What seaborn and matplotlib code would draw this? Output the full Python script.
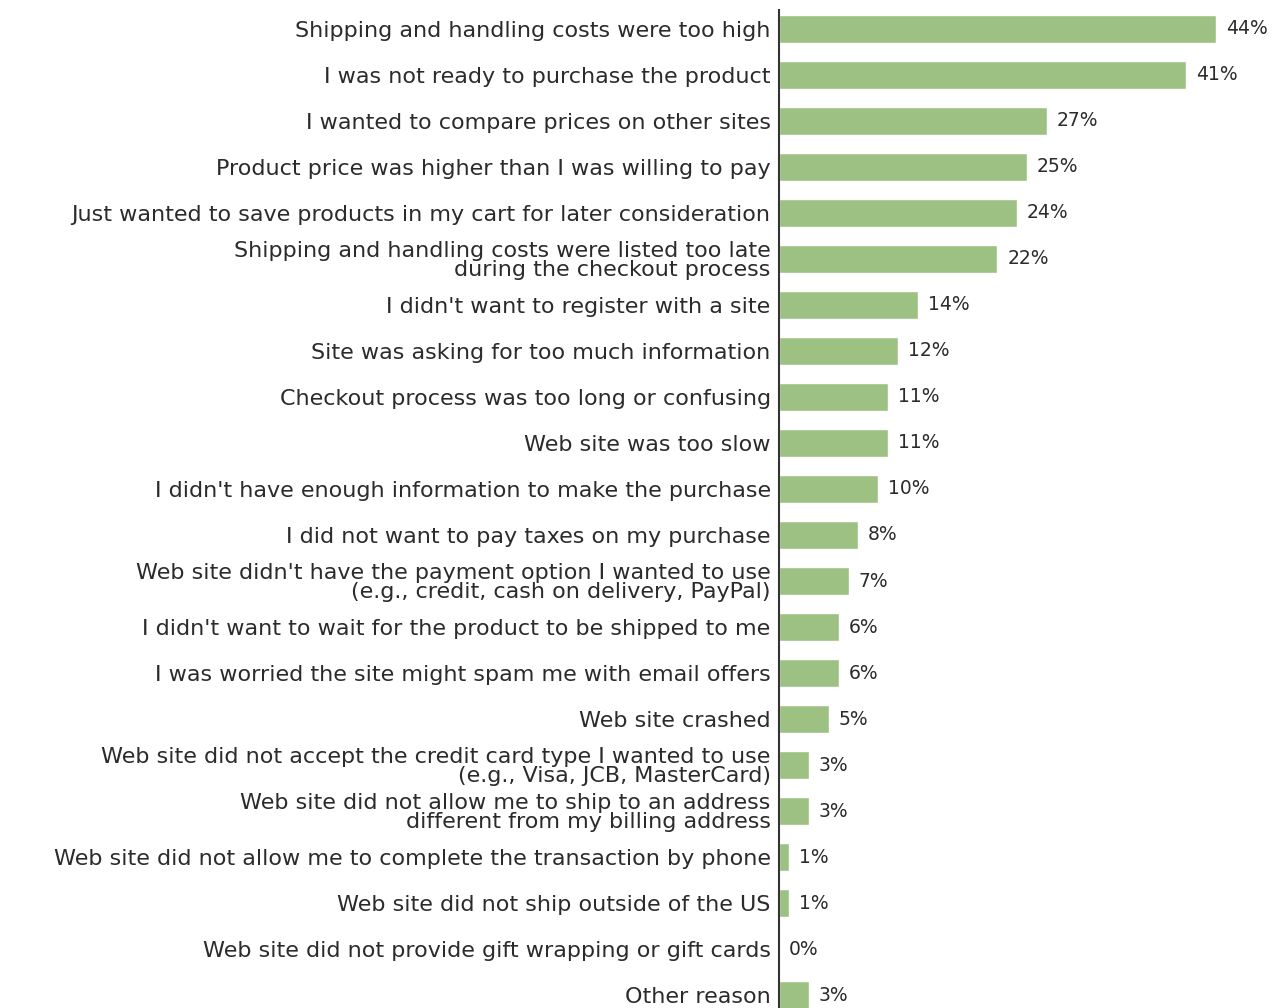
import matplotlib
matplotlib.use("Agg")
import matplotlib.pyplot as plt
import seaborn as sns
import pandas as pd

reasons = [
    "Shipping and handling costs were too high",
    "I was not ready to purchase the product",
    "I wanted to compare prices on other sites",
    "Product price was higher than I was willing to pay",
    "Just wanted to save products in my cart for later consideration",
    "Shipping and handling costs were listed too late\nduring the checkout process",
    "I didn't want to register with a site",
    "Site was asking for too much information",
    "Checkout process was too long or confusing",
    "Web site was too slow",
    "I didn't have enough information to make the purchase",
    "I did not want to pay taxes on my purchase",
    "Web site didn't have the payment option I wanted to use\n(e.g., credit, cash on delivery, PayPal)",
    "I didn't want to wait for the product to be shipped to me",
    "I was worried the site might spam me with email offers",
    "Web site crashed",
    "Web site did not accept the credit card type I wanted to use\n(e.g., Visa, JCB, MasterCard)",
    "Web site did not allow me to ship to an address\ndifferent from my billing address",
    "Web site did not allow me to complete the transaction by phone",
    "Web site did not ship outside of the US",
    "Web site did not provide gift wrapping or gift cards",
    "Other reason",
]
percents = [44, 41, 27, 25, 24, 22, 14, 12, 11, 11, 10, 8, 7, 6, 6, 5, 3, 3, 1, 1, 0, 3]

df = pd.DataFrame({"reason": reasons, "pct": percents})

sns.set_theme(style="white")
plt.rcParams["font.family"] = ["DejaVu Sans"]

W, H = 1281, 1008
fig = plt.figure(figsize=(W / 100, H / 100), dpi=100)
ax_left = 779
ax_top = 10
ax = fig.add_axes([ax_left / W, 0, (W - ax_left) / W, (H - ax_top) / H])

sns.barplot(data=df, x="pct", y="reason", orient="h", color="#9dc183",
            saturation=1, width=0.6, ax=ax, order=reasons)

ax.set_xlim(0, (W - ax_left) / 9.93)
ax.set_ylim(len(reasons) - 1 + 0.28, -0.41)
ax.set_xlabel("")
ax.set_ylabel("")
ax.set_xticks([])
for s in ["top", "right", "bottom"]:
    ax.spines[s].set_visible(False)
ax.spines["left"].set_color("#333333")
ax.spines["left"].set_linewidth(1.5)
ax.tick_params(axis="y", length=0, pad=6, labelsize=16, labelcolor="#2b2b2b")
for t in ax.get_yticklabels():
    t.set_multialignment("right")
    t.set_linespacing(0.95)

ax.bar_label(ax.containers[0], labels=[f"{v}%" for v in percents],
             padding=7, fontsize=13.5, color="#2b2b2b")

fig.savefig("out.png", dpi=100)
